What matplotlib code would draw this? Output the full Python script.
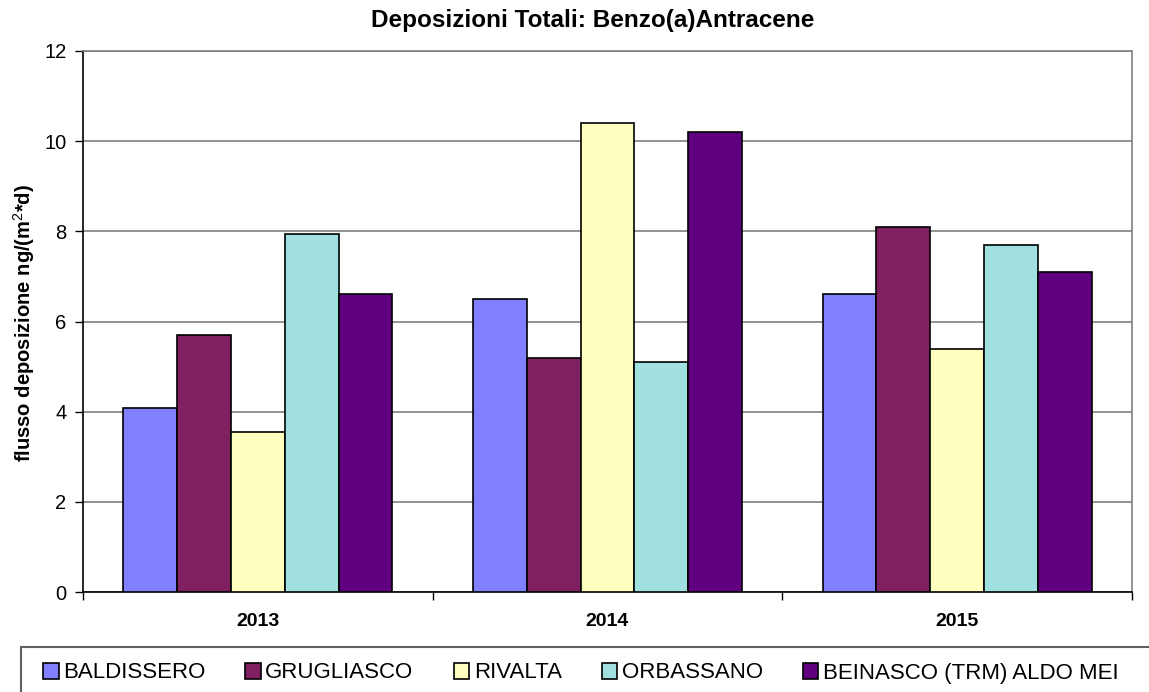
import matplotlib.pyplot as plt
from matplotlib.patches import Rectangle
import numpy as np

plt.rcParams['font.family'] = ['Liberation Sans', 'DejaVu Sans']
plt.rcParams['mathtext.fontset'] = 'custom'
plt.rcParams['mathtext.rm'] = 'Liberation Sans'
plt.rcParams['mathtext.default'] = 'rm'

anni = ['2013', '2014', '2015']
stazioni = ['BALDISSERO', 'GRUGLIASCO', 'RIVALTA', 'ORBASSANO', 'BEINASCO (TRM) ALDO MEI']
baldissero = [4.08, 6.5, 6.6]
grugliasco = [5.7, 5.2, 8.1]
rivalta = [3.56, 10.4, 5.4]
orbassano = [7.93, 5.1, 7.7]
beinasco = [6.6, 10.2, 7.1]
colori = ['#8080FF', '#802060', '#FFFFC0', '#A0E0E0', '#600080']

serie = [baldissero, grugliasco, rivalta, orbassano, beinasco]

fig = plt.figure(figsize=(11.49, 6.92), dpi=100)
ax = fig.add_axes([83/1149, 1-592/692, 1049/1149, 541/692])

x = np.arange(len(anni))
w = 0.1539
for i, (vals, nome, col) in enumerate(zip(serie, stazioni, colori)):
    ax.bar(x + (i - 2) * w, vals, w, color=col, edgecolor='black', linewidth=1.2,
           label=nome, zorder=3)

ax.set_xlim(-0.5, 2.5)
ax.set_ylim(0, 12)
ax.set_yticks(np.arange(0, 13, 2))
ax.yaxis.grid(True, color='#808080', linewidth=1.2, zorder=0)
ax.tick_params(axis='y', direction='out', length=6, width=1, labelsize=14.5, pad=6)

ax.set_xticks(x)
ax.set_xticklabels(anni, fontweight='bold', fontsize=14)
ax.tick_params(axis='x', which='major', length=0, pad=15)
ax.set_xticks([-0.5, 0.5, 1.5, 2.5], minor=True)
ax.tick_params(axis='x', which='minor', direction='out', length=6, width=1)

for s in ['top', 'right']:
    ax.spines[s].set_color('#808080')
    ax.spines[s].set_linewidth(1.2)
ax.spines['left'].set_linewidth(1.2)
ax.spines['bottom'].set_linewidth(1.2)

fig.text(24/1149, 1-323/692, 'flusso deposizione ng/(m$^{2}$*d)', rotation=90,
         ha='center', va='center', fontweight='bold', fontsize=14.5)

fig.text(593/1149, 1-21/692, 'Deposizioni Totali: Benzo(a)Antracene', ha='center', va='center',
         fontweight='bold', fontsize=17.5)

# riquadro legenda
fig.patches.append(Rectangle((21/1149, -0.1), 1.2, 1.1 - 647/692, transform=fig.transFigure,
                             facecolor='none', edgecolor='#606060', linewidth=1.5))
fig.legend(loc='center left', bbox_to_anchor=(43/1149, 1-673/692), ncol=5, frameon=False,
           fontsize=16, handlelength=0.7, handleheight=0.7, handletextpad=0.2,
           columnspacing=1.8, borderpad=0, borderaxespad=0)

plt.savefig('out.png', dpi=100)
